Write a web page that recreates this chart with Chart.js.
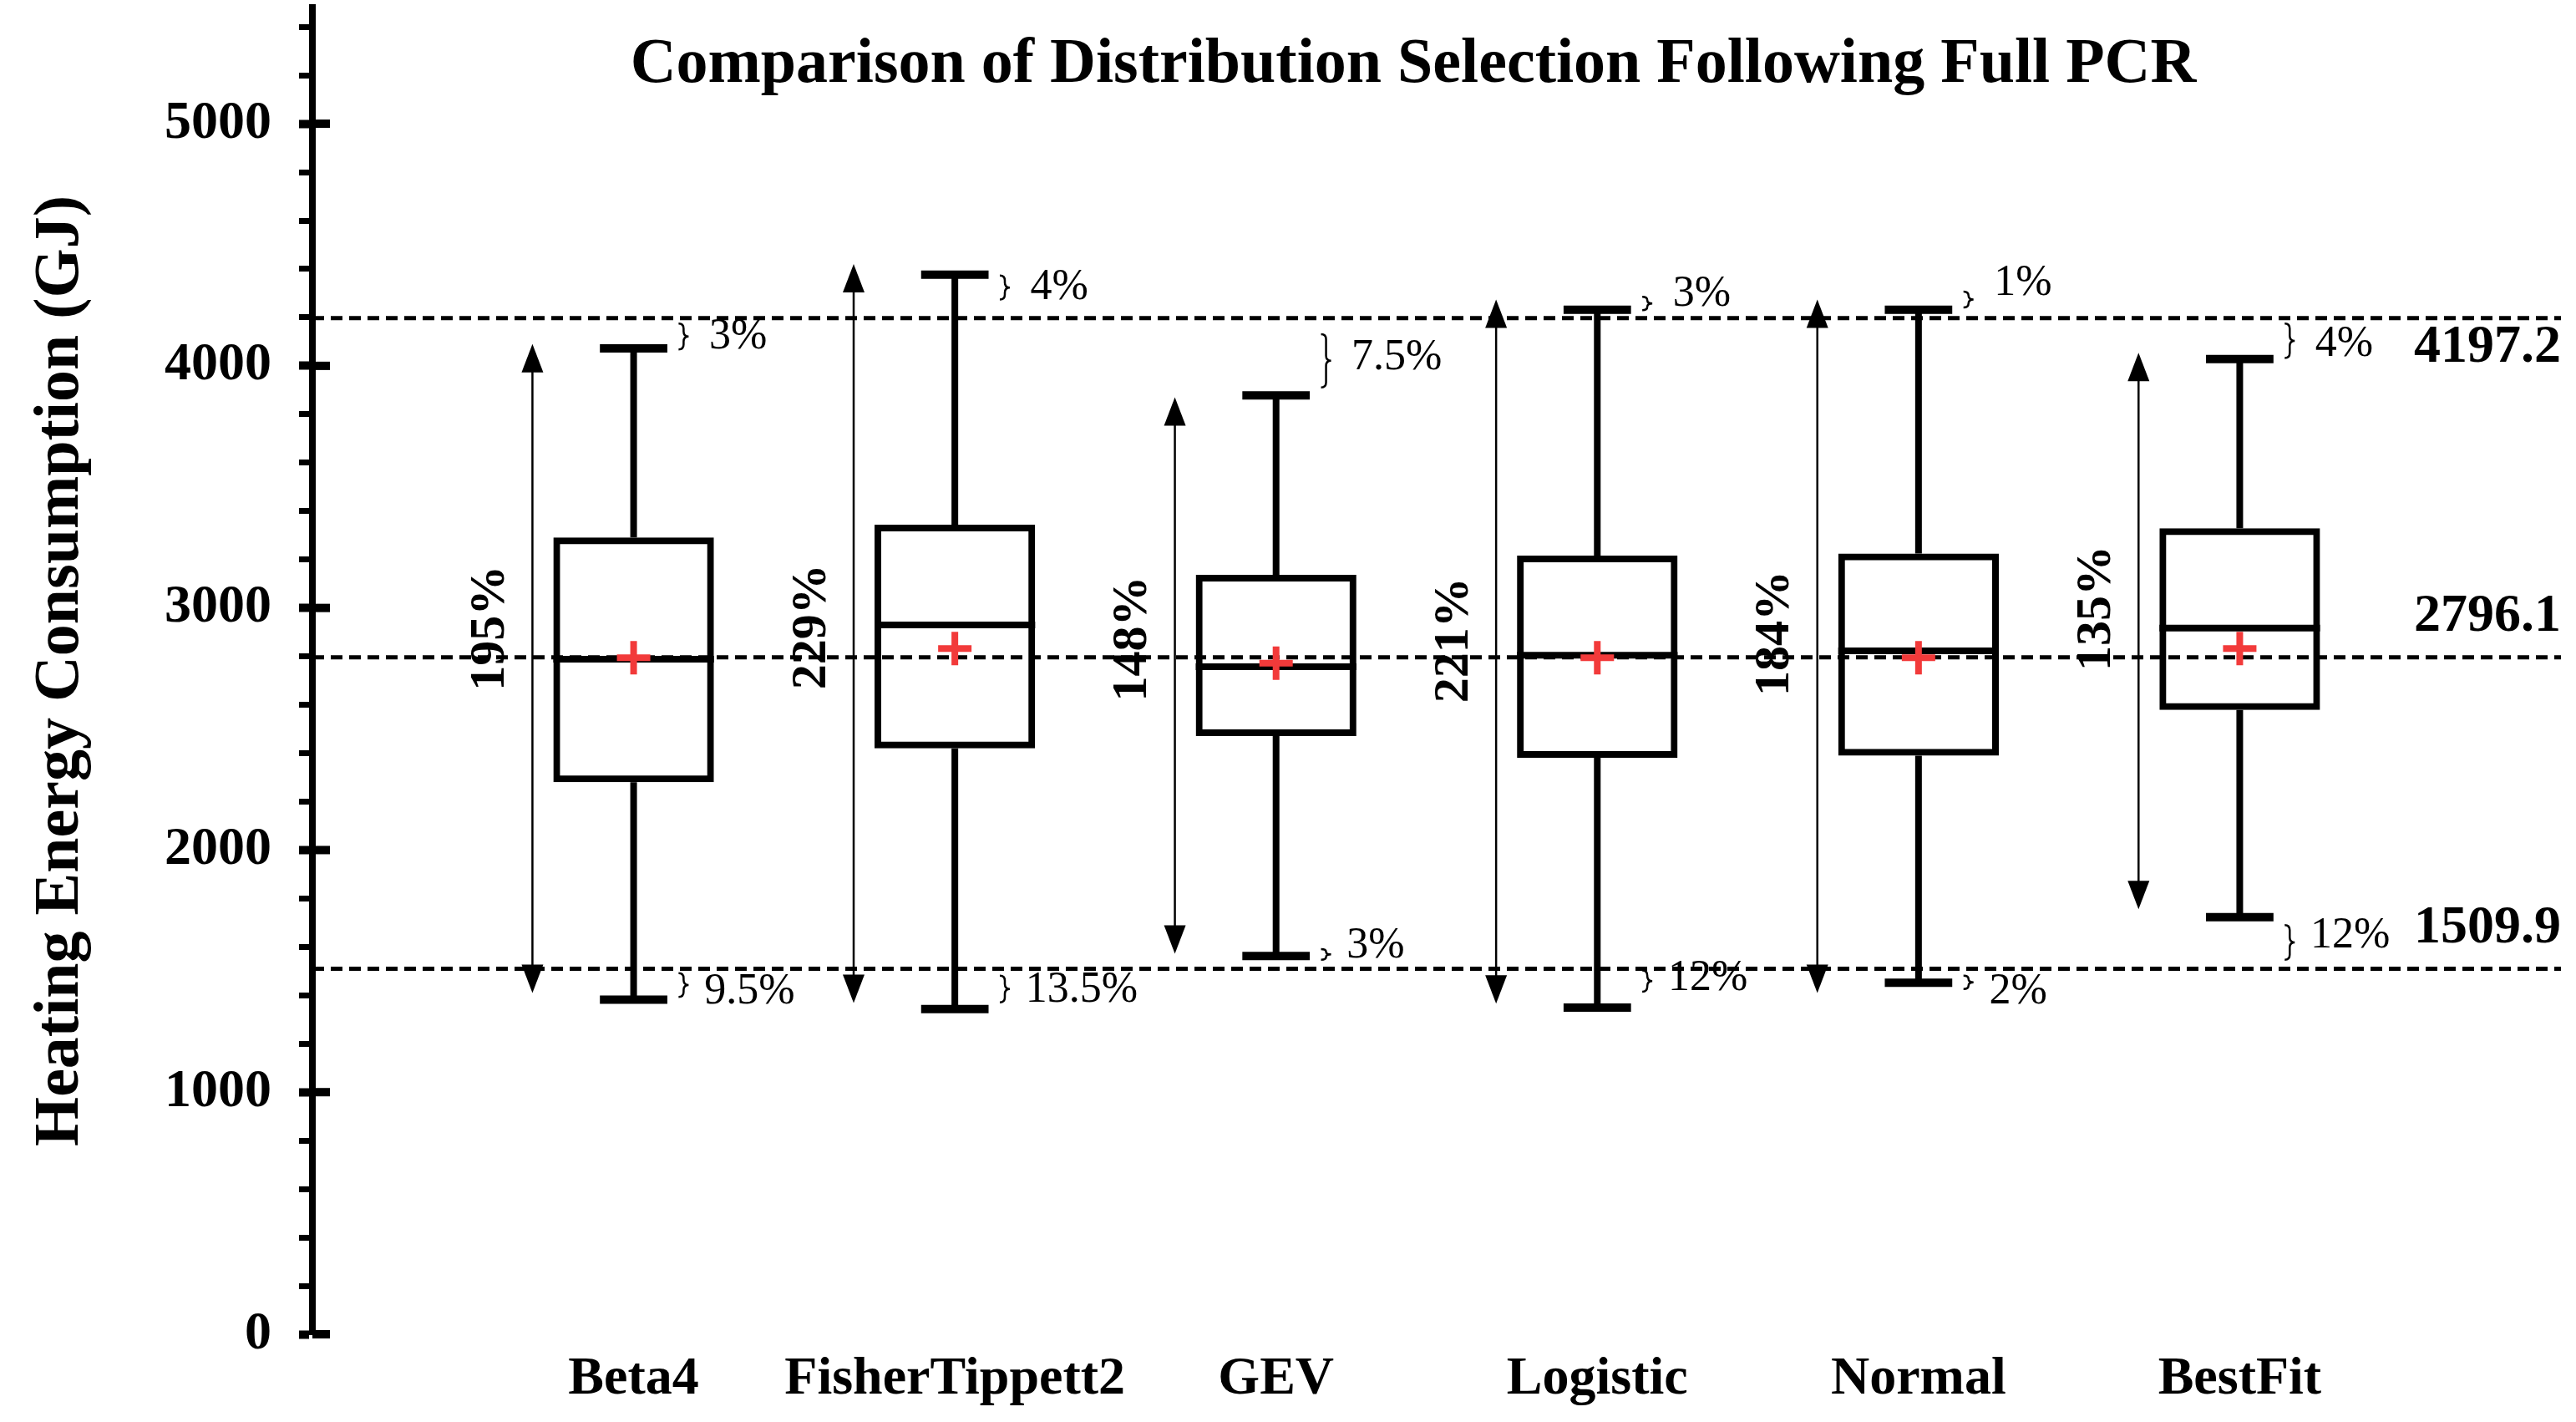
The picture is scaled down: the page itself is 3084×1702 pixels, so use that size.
<!DOCTYPE html>
<html>
<head>
<meta charset="utf-8">
<script src="https://cdn.jsdelivr.net/npm/chart.js@4.4.1/dist/chart.umd.min.js"></script>
<style>
  body { margin: 0; background: #fff; }
</style>
</head>
<body>
<canvas id="chart" width="3084" height="1702"></canvas>
<script>
// distributions on the x axis
const categories = ['Beta4', 'FisherTippett2', 'GEV', 'Logistic', 'Normal', 'BestFit'];

// box plot values (GJ)
const whiskerHigh = [4072, 4377, 3878, 4232, 4232, 4028];
const q3 = [3291, 3344, 3137, 3216, 3225, 3329];
const medians = [2788, 2930, 2757, 2805, 2823, 2917];
const means = [2794, 2832, 2772, 2794, 2794, 2832];
const q1 = [2280, 2420, 2471, 2381, 2390, 2579];
const whiskerLow = [1382, 1343, 1562, 1349, 1452, 1723];

// dashed reference lines
const refValues = [4197.2, 2796.1, 1509.9];

// spread arrows and their labels
const spreadTop = [4090, 4421, 3870, 4274, 4274, 4054];
const spreadBottom = [1410, 1368, 1572, 1366, 1410, 1756];
const spreadLabels = ['195%', '229%', '148%', '221%', '184%', '135%'];
const spreadLabelAt = [2917, 2922, 2873, 2867, 2895, 2999];

// brackets beside the whisker caps
const topGapLabels = ['3%', '4%', '7.5%', '3%', '1%', '4%'];
const topGapFrom = [4068, 4274, 3911, 4230, 4241, 4032];
const topGapTo = [4175, 4373, 4131, 4285, 4307, 4175];
const topGapLabelAt = [4120, 4322, 4032, 4296, 4340, 4087];
const bottomGapLabels = ['9.5%', '13.5%', '3%', '12%', '2%', '12%'];
const bottomGapFrom = [1393, 1371, 1547, 1415, 1426, 1547];
const bottomGapTo = [1492, 1481, 1591, 1503, 1481, 1690];
const bottomGapLabelAt = [1415, 1420, 1602, 1470, 1415, 1646];

const yTicks = [0, 1000, 2000, 3000, 4000, 5000];

const titleText = 'Comparison of Distribution Selection Following Full PCR';
const yTitle = 'Heating Energy Consumption (GJ)';

const serif = '"Liberation Serif", "Times New Roman", serif';
Chart.defaults.font.family = serif;
Chart.defaults.color = '#000';

const red = '#f23a3a';

// build point lists for the line pieces, gaps split them
const whiskerPts = [];
const capPts = [];
const medianPts = [];
for (let i = 0; i < categories.length; i++) {
    const c = i + 1;
    whiskerPts.push({x: c, y: whiskerLow[i]}, {x: c, y: q1[i]}, {x: c, y: null});
    whiskerPts.push({x: c, y: q3[i]}, {x: c, y: whiskerHigh[i]}, {x: c, y: null});
    capPts.push({x: c - 0.105, y: whiskerHigh[i]}, {x: c + 0.105, y: whiskerHigh[i]}, {x: c + 0.105, y: null});
    capPts.push({x: c - 0.105, y: whiskerLow[i]}, {x: c + 0.105, y: whiskerLow[i]}, {x: c + 0.105, y: null});
    medianPts.push({x: c - 0.25, y: medians[i]}, {x: c + 0.25, y: medians[i]}, {x: c + 0.25, y: null});
}
const refPts = [];
refValues.forEach(v => {
    refPts.push({x: 0, y: v}, {x: 7, y: v}, {x: 7, y: null});
});

function lineSet(data, width, extra) {
    return Object.assign({
        type: 'line',
        data: data,
        borderColor: '#000',
        borderWidth: width,
        pointRadius: 0,
        spanGaps: false,
        fill: false,
        borderCapStyle: 'butt',
        tension: 0,
        order: 2
    }, extra || {});
}

function drawArrowHead(ctx, px, py, dir) {
    // dir = 1 points up, -1 points down
    ctx.beginPath();
    ctx.moveTo(px, py);
    ctx.lineTo(px - 13, py + dir * 34);
    ctx.lineTo(px + 13, py + dir * 34);
    ctx.closePath();
    ctx.fill();
}

function drawBrace(ctx, px, pyTop, pyBot) {
    const w = 6;
    const mid = (pyTop + pyBot) / 2;
    const r = Math.min(6, (pyBot - pyTop) / 4);
    ctx.beginPath();
    ctx.moveTo(px, pyTop);
    ctx.quadraticCurveTo(px + w, pyTop, px + w, pyTop + r);
    ctx.lineTo(px + w, mid - r);
    ctx.quadraticCurveTo(px + w, mid, px + 2 * w, mid);
    ctx.quadraticCurveTo(px + w, mid, px + w, mid + r);
    ctx.lineTo(px + w, pyBot - r);
    ctx.quadraticCurveTo(px + w, pyBot, px, pyBot);
    ctx.stroke();
}

const annotations = {
    id: 'annotations',
    afterDatasetsDraw(chart) {
        const ctx = chart.ctx;
        const xs = chart.scales.x;
        const ys = chart.scales.y;
        const area = chart.chartArea;
        ctx.save();
        ctx.fillStyle = '#000';
        ctx.strokeStyle = '#000';

        // title
        ctx.font = 'bold 76px ' + serif;
        ctx.textAlign = 'center';
        ctx.textBaseline = 'alphabetic';
        ctx.fillText(titleText, 1692, 98);

        // major ticks cross the axis
        yTicks.forEach(v => {
            const py = ys.getPixelForValue(v);
            ctx.fillRect(area.left, py - 5, 21, 10);
        });

        // spread arrows
        ctx.lineWidth = 2.5;
        for (let i = 0; i < categories.length; i++) {
            const px = xs.getPixelForValue(i + 1 - 0.315);
            const top = ys.getPixelForValue(spreadTop[i]);
            const bot = ys.getPixelForValue(spreadBottom[i]);
            ctx.beginPath();
            ctx.moveTo(px, top + 20);
            ctx.lineTo(px, bot - 20);
            ctx.stroke();
            drawArrowHead(ctx, px, top, 1);
            drawArrowHead(ctx, px, bot, -1);
        }

        // rotated spread labels
        ctx.font = 'bold 60px ' + serif;
        ctx.textAlign = 'center';
        ctx.textBaseline = 'middle';
        for (let i = 0; i < categories.length; i++) {
            const px = xs.getPixelForValue(i + 1 - 0.445);
            const py = ys.getPixelForValue(spreadLabelAt[i]);
            ctx.save();
            ctx.translate(px, py);
            ctx.rotate(-Math.PI / 2);
            ctx.fillText(spreadLabels[i], 0, 0);
            ctx.restore();
        }

        // brackets and gap percentages
        ctx.lineWidth = 2.5;
        ctx.font = '52px ' + serif;
        ctx.textAlign = 'left';
        for (let i = 0; i < categories.length; i++) {
            const bx = xs.getPixelForValue(i + 1 + 0.14);
            drawBrace(ctx, bx, ys.getPixelForValue(topGapTo[i]), ys.getPixelForValue(topGapFrom[i]));
            drawBrace(ctx, bx, ys.getPixelForValue(bottomGapTo[i]), ys.getPixelForValue(bottomGapFrom[i]));
            ctx.fillText(topGapLabels[i], xs.getPixelForValue(i + 1 + 0.235), ys.getPixelForValue(topGapLabelAt[i]));
            ctx.fillText(bottomGapLabels[i], xs.getPixelForValue(i + 1 + 0.22), ys.getPixelForValue(bottomGapLabelAt[i]));
        }

        // reference values on the right
        ctx.font = 'bold 64px ' + serif;
        ctx.textAlign = 'right';
        refValues.forEach((v, k) => {
            const py = ys.getPixelForValue(v);
            const shift = k === 0 ? 36 : -48;
            ctx.fillText(v.toFixed(1), area.right, py + shift);
        });

        ctx.restore();
    }
};

new Chart(document.getElementById('chart'), {
    type: 'bar',
    data: {
        datasets: [
            {
                type: 'bar',
                data: categories.map((c, i) => ({x: i + 1, y: [q1[i], q3[i]]})),
                backgroundColor: 'rgba(0,0,0,0)',
                borderColor: '#000',
                borderWidth: 8,
                borderSkipped: false,
                categoryPercentage: 1,
                barPercentage: 0.5,
                order: 2
            },
            lineSet(whiskerPts, 8),
            lineSet(capPts, 10),
            lineSet(medianPts, 8),
            lineSet(refPts, 5, {borderDash: [14, 8], order: 3}),
            {
                type: 'line',
                data: categories.map((c, i) => ({x: i + 1, y: means[i]})),
                showLine: false,
                pointStyle: 'cross',
                pointRadius: 20,
                pointBorderWidth: 8,
                pointBorderColor: red,
                pointBackgroundColor: red,
                order: 0
            }
        ]
    },
    options: {
        responsive: false,
        animation: false,
        events: [],
        layout: {autoPadding: false, padding: {top: 9, right: 18, left: 0, bottom: 0}},
        plugins: {
            legend: {display: false},
            tooltip: {enabled: false}
        },
        scales: {
            x: {
                type: 'linear',
                min: 0,
                max: 7,
                offset: false,
                grid: {display: false, drawTicks: false, offset: false},
                border: {display: false},
                afterBuildTicks: s => { s.ticks = categories.map((c, i) => ({value: i + 1})); },
                afterFit: s => { s.height = 105; s.paddingLeft = 0; s.paddingRight = 0; },
                ticks: {
                    autoSkip: false,
                    maxRotation: 0,
                    padding: 16,
                    font: {size: 64, weight: 'bold'},
                    callback: v => categories[v - 1] || ''
                }
            },
            y: {
                min: 0,
                max: 5480,
                afterFit: s => { s.width = 374; s.paddingTop = 0; s.paddingBottom = 0; },
                border: {display: true, color: '#000', width: 8},
                grid: {
                    drawOnChartArea: false,
                    drawTicks: true,
                    tickLength: 16,
                    tickColor: '#000',
                    tickWidth: ctx => (ctx.tick && ctx.tick.value % 1000 === 0) ? 10 : 7
                },
                ticks: {
                    stepSize: 200,
                    includeBounds: false,
                    autoSkip: false,
                    padding: 33,
                    font: {size: 64, weight: 'bold'},
                    callback: v => (v % 1000 === 0 ? String(v) : '')
                },
                title: {
                    display: true,
                    text: yTitle,
                    font: {size: 76, weight: 'bold'},
                    padding: {top: 28, bottom: 0}
                }
            }
        }
    },
    plugins: [annotations]
});
</script>
</body>
</html>
